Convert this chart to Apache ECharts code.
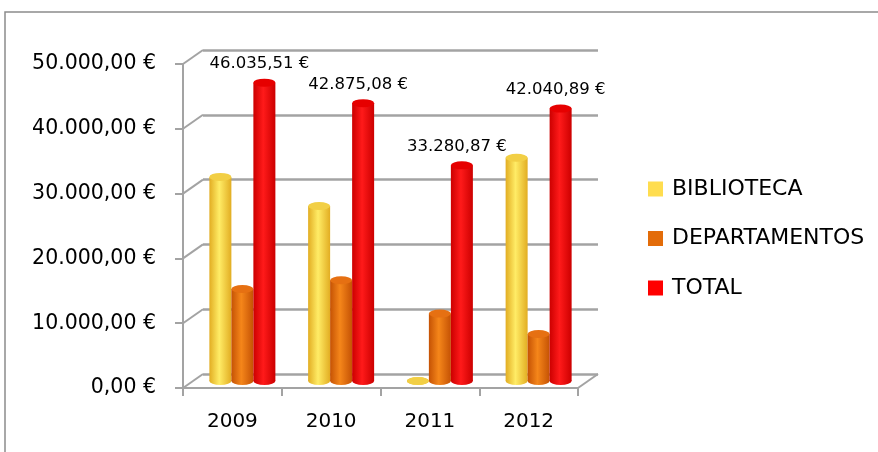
<!DOCTYPE html>
<html>
<head>
<meta charset="utf-8">
<script src="https://cdn.jsdelivr.net/npm/echarts@6/dist/echarts.min.js"></script>
<style>
html, body { margin: 0; padding: 0; background: #fff; }
#chart { width: 878px; height: 452px; }
</style>
</head>
<body>
<div id="chart"></div>
<script>
var years = ['2009', '2010', '2011', '2012'];
var biblioteca = [31500, 27000, 0, 34450];
var departamentos = [14200, 15550, 10400, 7250];
var total = [46035.51, 42875.08, 33280.87, 42040.89];
var seriesNames = ['BIBLIOTECA', 'DEPARTAMENTOS', 'TOTAL'];
var yTicks = [0, 10000, 20000, 30000, 40000, 50000];

var FONT = 'DejaVu Sans';
var GRID_LINE = '#a3a3a3';

// 12345.6 -> "12.345,60 €"
function euro(v) {
	var parts = Number(v).toFixed(2).split('.');
	var ent = parts[0].replace(/\B(?=(\d{3})+(?!\d))/g, '.');
	return ent + ',' + parts[1] + ' €';
}

function cyl(edge, mid) {
	return new echarts.graphic.LinearGradient(0, 0, 1, 0, [
		{ offset: 0, color: edge },
		{ offset: 0.45, color: mid },
		{ offset: 1, color: edge }
	]);
}

var colors = {
	BIBLIOTECA: { legend: '#ffdd4f', edge: '#e2ad22', mid: '#ffec66', top: '#f2cf45' },
	DEPARTAMENTOS: { legend: '#e36c09', edge: '#c55204', mid: '#f5861a', top: '#e67012' },
	TOTAL: { legend: '#ff0000', edge: '#cc0000', mid: '#ff1a1a', top: '#e60000' }
};
var values = { BIBLIOTECA: biblioteca, DEPARTAMENTOS: departamentos, TOTAL: total };

var chart = echarts.init(document.getElementById('chart'));

var series = [];
seriesNames.forEach(function(name, i) {
	var c = colors[name];
	var bar = {
		name: name,
		type: 'bar',
		xAxisIndex: 2,
		yAxisIndex: 2,
		barWidth: 22,
		barGap: 0,
		z: 3,
		itemStyle: { color: cyl(c.edge, c.mid) },
		data: values[name]
	};
	if (name === 'TOTAL') {
		bar.label = {
			show: true,
			position: 'top',
			offset: [-5, -5],
			fontFamily: FONT,
			fontSize: 16.5,
			color: '#000',
			formatter: function(p) { return euro(p.value); }
		};
	}
	series.push(bar);
	// cylinder top
	series.push({
		name: name + '_top',
		type: 'pictorialBar',
		xAxisIndex: 2,
		yAxisIndex: 2,
		symbol: 'circle',
		symbolSize: [22, 8],
		symbolPosition: 'end',
		symbolOffset: [(i - 1) * 22, '-50%'],
		barWidth: 22,
		barGap: '-100%',
		z: 4,
		itemStyle: { color: c.top },
		data: values[name]
	});
	// cylinder bottom
	series.push({
		name: name + '_bottom',
		type: 'pictorialBar',
		xAxisIndex: 2,
		yAxisIndex: 2,
		symbol: 'circle',
		symbolSize: [22, 8],
		symbolPosition: 'start',
		symbolOffset: [(i - 1) * 22, '50%'],
		barWidth: 22,
		barGap: '-100%',
		z: 2,
		itemStyle: { color: cyl(c.edge, c.mid) },
		data: values[name]
	});
});

var hiddenCat = { type: 'category', data: years, show: false };
var hiddenVal = { type: 'value', min: 0, max: 50000, interval: 10000, show: false };

var option = {
	backgroundColor: '#fff',
	animation: false,
	legend: {
		orient: 'vertical',
		left: 648,
		top: 178,
		padding: 0,
		itemWidth: 15,
		itemHeight: 15,
		itemGap: 27.5,
		icon: 'rect',
		textStyle: { fontFamily: FONT, fontSize: 22, lineHeight: 21, color: '#000', padding: [0, 0, 0, 4] },
		data: seriesNames.map(function(n) {
			return { name: n, itemStyle: { color: colors[n].legend } };
		})
	},
	grid: [
		// front plane: axes and labels
		{ left: 183, right: 300, top: 64, bottom: 64 },
		// back wall: gridlines
		{ left: 203, right: 280, top: 50, bottom: 78 },
		// middle depth: cylinders
		{ left: 193, right: 290, top: 57, bottom: 71 }
	],
	xAxis: [
		{
			type: 'category',
			gridIndex: 0,
			data: years,
			axisLine: { lineStyle: { color: GRID_LINE, width: 2 } },
			axisTick: { show: true, length: 8, alignWithLabel: false, lineStyle: { color: GRID_LINE, width: 2 } },
			axisLabel: { fontFamily: FONT, fontSize: 20, color: '#000', margin: 24 }
		},
		Object.assign({ gridIndex: 1 }, hiddenCat),
		Object.assign({ gridIndex: 2 }, hiddenCat)
	],
	yAxis: [
		{
			type: 'value',
			gridIndex: 0,
			min: 0,
			max: 50000,
			interval: 10000,
			axisLine: { show: true, lineStyle: { color: GRID_LINE, width: 2 } },
			axisTick: { show: true, length: 8, lineStyle: { color: GRID_LINE, width: 2 } },
			splitLine: { show: false },
			axisLabel: {
				fontFamily: FONT,
				fontSize: 20.5,
				color: '#000',
				margin: 27,
				formatter: function(v) { return euro(v); }
			}
		},
		{
			type: 'value',
			gridIndex: 1,
			min: 0,
			max: 50000,
			interval: 10000,
			axisLine: { show: false },
			axisTick: { show: false },
			axisLabel: { show: false },
			splitLine: { show: true, lineStyle: { color: GRID_LINE, width: 2.5 } }
		},
		Object.assign({ gridIndex: 2 }, hiddenVal)
	],
	series: series
};

chart.setOption(option);

// 3D frame: diagonals between front axis and back wall, plus outer border
var front = chart.getModel().getComponent('grid', 0).coordinateSystem.getRect();
var back = chart.getModel().getComponent('grid', 1).coordinateSystem.getRect();
var frame = [{
	type: 'rect',
	shape: { x: 5, y: 12, width: 900, height: 500 },
	style: { fill: null, stroke: '#8c8c8c', lineWidth: 1.5 },
	silent: true
}];
yTicks.forEach(function(v) {
	var yf = chart.convertToPixel({ yAxisIndex: 0 }, v);
	var yb = chart.convertToPixel({ yAxisIndex: 1 }, v);
	frame.push({
		type: 'line',
		shape: { x1: front.x, y1: yf, x2: back.x, y2: yb },
		style: { stroke: GRID_LINE, lineWidth: 2 },
		silent: true
	});
});
var yf0 = chart.convertToPixel({ yAxisIndex: 0 }, 0);
var yb0 = chart.convertToPixel({ yAxisIndex: 1 }, 0);
frame.push({
	type: 'line',
	shape: { x1: front.x + front.width, y1: yf0, x2: back.x + back.width, y2: yb0 },
	style: { stroke: GRID_LINE, lineWidth: 2 },
	silent: true
});
chart.setOption({ graphic: frame });
</script>
</body>
</html>
